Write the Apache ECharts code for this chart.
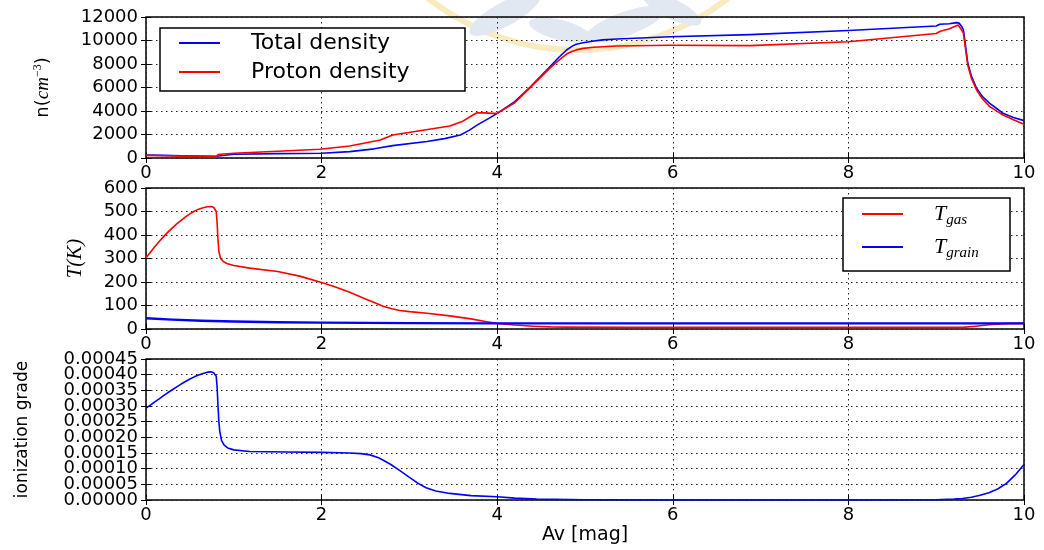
<!DOCTYPE html>
<html>
<head>
<meta charset="utf-8">
<script src="https://cdn.jsdelivr.net/npm/echarts/dist/echarts.min.js"></script>
<style>
  html, body { margin: 0; padding: 0; background: #fff; }
  #chart { width: 1044px; height: 550px; }
</style>
</head>
<body>
<div id="chart"></div>
<script>
// ---- density profile (cm^-3) versus visual extinction Av [mag] ----
const totalAv = [0, 0.2, 0.4, 0.6, 0.8, 0.82, 1.0, 1.5, 2.0, 2.32, 2.6, 2.81, 3.2, 3.4, 3.58, 3.68, 3.77, 3.9, 4.0, 4.2, 4.37, 4.6, 4.7, 4.79, 4.85, 4.9, 4.98, 5.1, 5.2, 5.36, 5.97, 6.88, 8.0, 9.0, 9.04, 9.15, 9.23, 9.26, 9.29, 9.31, 9.33, 9.36, 9.4, 9.46, 9.53, 9.61, 9.7, 9.76, 9.88, 10];
const totalN  = [260, 220, 190, 170, 150, 290, 320, 370, 410, 540, 780, 1050, 1400, 1650, 1960, 2350, 2800, 3350, 3800, 4800, 6000, 7770, 8550, 9190, 9500, 9680, 9810, 9960, 10050, 10130, 10320, 10500, 10850, 11230, 11380, 11420, 11520, 11480, 11200, 10900, 9800, 8060, 7000, 5930, 5200, 4650, 4150, 3800, 3450, 3180];

const protonAv = [0, 0.2, 0.4, 0.6, 0.8, 0.82, 1.0, 1.5, 1.98, 2.32, 2.67, 2.81, 3.1, 3.46, 3.6, 3.7, 3.77, 3.85, 3.95, 4.0, 4.2, 4.37, 4.6, 4.7, 4.79, 4.85, 4.9, 4.98, 5.1, 5.36, 5.97, 6.88, 8.0, 9.0, 9.04, 9.15, 9.25, 9.28, 9.31, 9.33, 9.36, 9.4, 9.46, 9.53, 9.61, 9.7, 9.76, 9.88, 10];
const protonN  = [220, 190, 160, 140, 120, 300, 400, 580, 740, 1020, 1530, 1960, 2300, 2720, 3100, 3550, 3850, 3840, 3800, 3800, 4700, 5950, 7650, 8300, 8850, 9070, 9200, 9330, 9430, 9530, 9590, 9560, 9900, 10600, 10760, 11000, 11320, 11000, 10620, 9500, 7900, 6800, 5790, 5000, 4370, 3950, 3660, 3250, 2870];

// ---- temperatures (K) ----
const tGasAv = [0, 0.05, 0.1, 0.15, 0.2, 0.25, 0.3, 0.35, 0.4, 0.45, 0.5, 0.55, 0.6, 0.65, 0.7, 0.74, 0.77, 0.79, 0.80, 0.81, 0.82, 0.83, 0.85, 0.88, 0.92, 1.0, 1.18, 1.5, 1.75, 2.0, 2.15, 2.32, 2.5, 2.6, 2.7, 2.8, 2.89, 3.0, 3.2, 3.46, 3.7, 3.88, 4.0, 4.2, 4.41, 4.6, 4.79, 5.5, 9.3, 9.45, 9.6, 9.8, 10];
const tGas   = [303, 327, 350, 372, 393, 412, 430, 447, 462, 477, 490, 501, 510, 516, 520, 521, 518, 511, 500, 450, 380, 330, 300, 287, 279, 270, 259, 245, 225, 198, 180, 156, 128, 113, 97, 86, 79, 74, 67, 56, 43, 31, 24, 17, 12, 9, 8, 7, 7, 12, 18, 23, 24];

const tGrainAv = [0, 0.3, 0.63, 1.0, 1.5, 2.0, 3.0, 4.0, 10];
const tGrain   = [46, 40, 35, 32, 29, 27, 25, 24, 24];

// ---- ionization fraction ----
const ionAv = [0, 0.05, 0.1, 0.15, 0.2, 0.25, 0.3, 0.35, 0.4, 0.45, 0.5, 0.55, 0.6, 0.65, 0.7, 0.74, 0.77, 0.79, 0.80, 0.81, 0.82, 0.83, 0.84, 0.86, 0.89, 0.93, 1.0, 1.18, 1.6, 2.0, 2.32, 2.45, 2.55, 2.65, 2.78, 2.9, 3.0, 3.1, 3.19, 3.3, 3.46, 3.7, 4.0, 4.2, 4.45, 5.0, 6.0, 8.0, 9.0, 9.2, 9.3, 9.4, 9.5, 9.6, 9.7, 9.8, 9.9, 10];
const ion   = [0.000293, 0.000303, 0.000313, 0.000323, 0.000333, 0.000343, 0.000352, 0.000361, 0.00037, 0.000378, 0.000386, 0.000393, 0.000399, 0.000404, 0.000408, 0.000409, 0.000406, 0.000402, 0.000395, 0.00036, 0.0003, 0.00025, 0.00022, 0.00019, 0.000175, 0.000166, 0.00016, 0.000155, 0.000153, 0.000152, 0.00015, 0.000148, 0.000144, 0.000135, 0.000115, 0.000092, 0.000072, 0.000053, 0.000039, 0.000029, 0.000021, 0.000014, 0.0000102, 0.000006, 0.0000027, 0.0000008, 0.0000002, 0.0000001, 0.0000008, 0.000003, 0.000005, 0.000009, 0.000015, 0.000023, 0.000035, 0.000053, 0.00008, 0.000113];

// ---- axes ----
const avTicks = { min: 0, max: 10, interval: 2 };
const densityAxis = { min: 0, max: 12000, interval: 2000 };
const tempAxis = { min: 0, max: 600, interval: 100 };
const ionStep = 0.00005;
const ionAxis = { min: 0, max: 0.00045, interval: ionStep };

const zip = (xs, ys) => xs.map((x, i) => [x, ys[i]]);

const SANS = 'DejaVu Sans';
const SERIF = 'Liberation Serif';
const BLACK = '#000';

const gridBoxes = [
  { left: 146, top: 17,  width: 878, height: 141 },
  { left: 146, top: 188, width: 878, height: 141 },
  { left: 146, top: 359, width: 878, height: 141 }
];

const tick = { show: true, inside: true, length: 5, lineStyle: { color: BLACK, width: 1 } };
const dotted = { show: true, lineStyle: { color: '#222', width: 1, type: [1.5, 3.5] } };
const tickFont = {
  fontFamily: SANS, fontSize: 18, color: BLACK,
  showMinLabel: true, showMaxLabel: true, hideOverlap: false
};

const xAxes = [];
const yAxes = [];
const yScales = [densityAxis, tempAxis, ionAxis];
// the ionization labels sit closer together than their height, so the even and
// odd ticks are labelled by two coincident axes
const ionEven = v => (Math.round(v / ionStep) % 2 === 0 ? v.toFixed(5) : '');
const ionOdd = v => (Math.round(v / ionStep) % 2 === 1 ? v.toFixed(5) : '');
const yFormat = [v => String(v), v => String(v), ionEven];
const yNames = [
  {
    name: 'n({i|cm}{s|−3})',
    nameGap: 92,
    nameTextStyle: {
      fontFamily: SANS, fontSize: 18, color: BLACK, lineHeight: 22,
      rich: {
        i: { fontFamily: SERIF, fontStyle: 'italic', fontSize: 19, color: BLACK, lineHeight: 22 },
        s: { fontFamily: SERIF, fontSize: 12, color: BLACK, lineHeight: 14, verticalAlign: 'top' }
      }
    }
  },
  {
    name: 'T(K)',
    nameGap: 60,
    nameTextStyle: { fontFamily: SERIF, fontStyle: 'italic', fontSize: 21, color: BLACK }
  },
  {
    name: 'ionization grade',
    nameGap: 115,
    nameTextStyle: { fontFamily: SANS, fontSize: 17, color: BLACK }
  }
];

gridBoxes.forEach((g, i) => {
  const bottom = {
    gridIndex: i, type: 'value', position: 'bottom', ...avTicks,
    axisLine: { show: false }, axisTick: tick,
    axisLabel: { ...tickFont, margin: 6 },
    splitLine: dotted
  };
  if (i === 2) {
    Object.assign(bottom, {
      name: 'Av [mag]', nameLocation: 'middle', nameGap: 26,
      nameTextStyle: { fontFamily: SANS, fontSize: 19, color: BLACK }
    });
  }
  xAxes.push(bottom);
  xAxes.push({
    gridIndex: i, type: 'value', position: 'top', ...avTicks,
    axisLine: { show: false }, axisTick: tick,
    axisLabel: { show: false }, splitLine: { show: false }
  });

  yAxes.push({
    gridIndex: i, type: 'value', position: 'left', ...yScales[i],
    axisLine: { show: false }, axisTick: tick,
    axisLabel: { ...tickFont, margin: 8, formatter: yFormat[i] },
    splitLine: dotted,
    nameLocation: 'middle', nameRotate: 90,
    ...yNames[i]
  });
  yAxes.push({
    gridIndex: i, type: 'value', position: 'right', ...yScales[i],
    axisLine: { show: false }, axisTick: tick,
    axisLabel: { show: false }, splitLine: { show: false }
  });
});

// companion left axis for the odd ionization tick labels
yAxes.push({
  gridIndex: 2, type: 'value', position: 'left', offset: 0, ...ionAxis,
  axisLine: { show: false }, axisTick: { show: false },
  axisLabel: { ...tickFont, margin: 8, formatter: ionOdd },
  splitLine: { show: false }
});

const line = (name, color, xi, yi, data, width) => ({
  name, type: 'line', xAxisIndex: xi, yAxisIndex: yi, data,
  symbol: 'none', smooth: false,
  lineStyle: { color, width: width || 1.6, join: 'round' }, itemStyle: { color },
  emphasis: { disabled: true }
});

const series = [
  line('Total density', '#0000ff', 0, 0, zip(totalAv, totalN)),
  line('Proton density', '#ff0000', 0, 0, zip(protonAv, protonN)),
  line('T_gas', '#ff0000', 2, 2, zip(tGasAv, tGas)),
  line('T_grain', '#0000ff', 2, 2, zip(tGrainAv, tGrain), 2.4),
  line('ionization grade', '#0000ff', 4, 4, zip(ionAv, ion))
];

// faint emblem printed behind the top panel
const emblemBlue = '#e2e8f1';
const emblem = [
  { type: 'circle', shape: { cx: 578, cy: -193, r: 243 }, style: { fill: null, stroke: '#f8ebc0', lineWidth: 6 } },
  { type: 'ellipse', x: 505, y: 14, rotation: 0.5, shape: { cx: 0, cy: 0, rx: 40, ry: 12 }, style: { fill: emblemBlue } },
  { type: 'ellipse', x: 560, y: 30, rotation: -0.25, shape: { cx: 0, cy: 0, rx: 32, ry: 10 }, style: { fill: emblemBlue } },
  { type: 'ellipse', x: 625, y: 24, rotation: 0.35, shape: { cx: 0, cy: 0, rx: 42, ry: 12 }, style: { fill: emblemBlue } },
  { type: 'ellipse', x: 672, y: 9, rotation: -0.45, shape: { cx: 0, cy: 0, rx: 32, ry: 10 }, style: { fill: emblemBlue } }
].map(e => Object.assign(e, { silent: true, z: -10 }));

const chart = echarts.init(document.getElementById('chart'), null, { renderer: 'canvas' });
chart.setOption({
  animation: false,
  backgroundColor: '#fff',
  graphic: { elements: emblem },
  grid: gridBoxes.map(g => ({
    ...g, show: true, borderColor: BLACK, borderWidth: 1.5,
    backgroundColor: 'transparent', containLabel: false, outerBoundsMode: 'none'
  })),
  xAxis: xAxes,
  yAxis: yAxes,
  legend: [
    {
      data: ['Total density', 'Proton density'],
      orient: 'vertical', left: 160, top: 28,
      padding: [2, 12, 6, 19], itemGap: 3,
      backgroundColor: '#fff', borderColor: BLACK, borderWidth: 1.5, borderRadius: 0,
      icon: 'rect', itemWidth: 41, itemHeight: 2,
      selectedMode: false,
      textStyle: { fontFamily: SANS, fontSize: 22, color: BLACK, lineHeight: 26, width: 202, padding: [0, 0, 0, 26] }
    },
    {
      data: ['T_gas', 'T_grain'],
      orient: 'vertical', left: 843, top: 198,
      padding: [2, 13, 10, 19], itemGap: 5,
      backgroundColor: '#fff', borderColor: BLACK, borderWidth: 1.5, borderRadius: 0,
      icon: 'rect', itemWidth: 41, itemHeight: 2,
      selectedMode: false,
      formatter: n => n === 'T_gas' ? '{t|T}{s|gas}' : '{t|T}{s|grain}',
      textStyle: {
        fontFamily: SERIF, fontStyle: 'italic', color: BLACK, lineHeight: 28, width: 63, padding: [0, 0, 0, 26],
        rich: {
          t: { fontFamily: SERIF, fontStyle: 'italic', fontSize: 22, color: BLACK, lineHeight: 28 },
          s: { fontFamily: SERIF, fontStyle: 'italic', fontSize: 15, color: BLACK, lineHeight: 16, verticalAlign: 'bottom' }
        }
      }
    }
  ],
  series
});
</script>
</body>
</html>
